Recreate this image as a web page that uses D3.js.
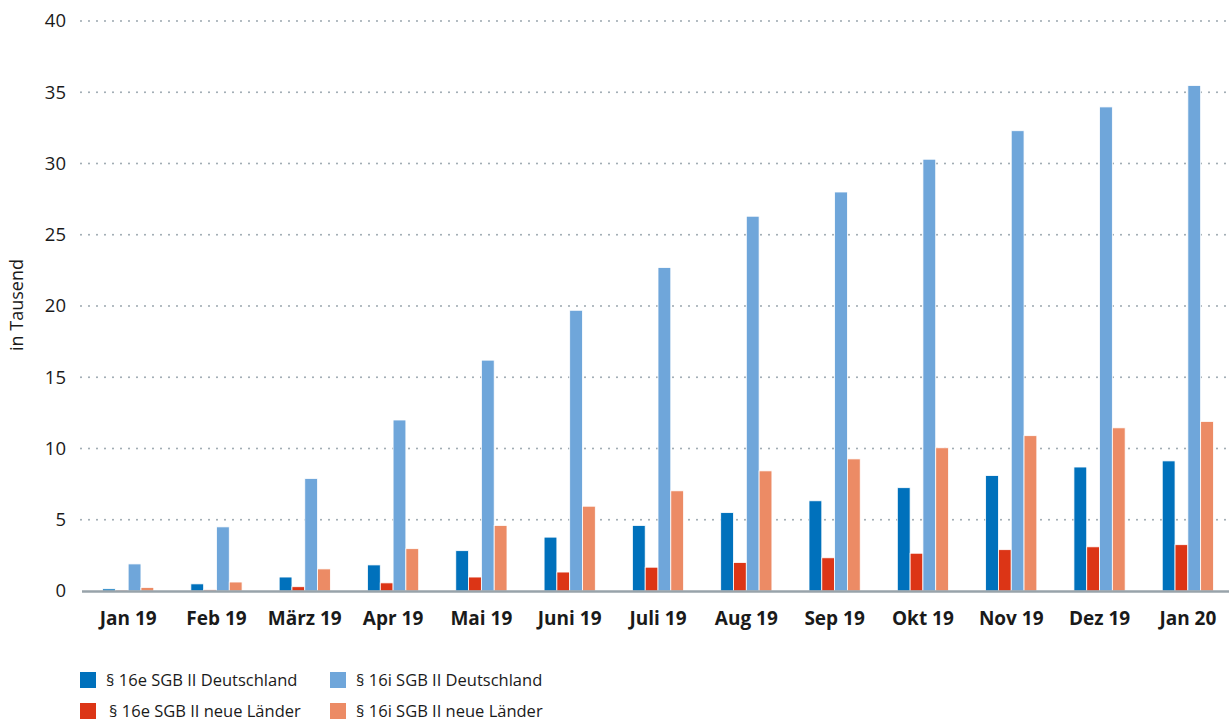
<!DOCTYPE html>
<html><head><meta charset="utf-8">
<script src="https://cdn.jsdelivr.net/npm/d3@7"></script>
<style>body{margin:0;background:#fff}svg{display:block}text{font-family:"Open Sans",sans-serif;fill:#1a1a1a}</style>
</head><body><svg id="c" width="1229" height="722"></svg>
<script>
const categories = ["Jan 19","Feb 19","März 19","Apr 19","Mai 19","Juni 19","Juli 19","Aug 19","Sep 19","Okt 19","Nov 19","Dez 19","Jan 20"];
const seriesNames = ["§ 16e SGB II Deutschland","§ 16e SGB II neue Länder","§ 16i SGB II Deutschland","§ 16i SGB II neue Länder"];
const e_de = [0.15,0.5,0.98,1.83,2.83,3.78,4.6,5.5,6.33,7.25,8.1,8.7,9.13];
const e_nl = [0.07,0.08,0.3,0.57,0.98,1.33,1.67,2.0,2.33,2.65,2.9,3.1,3.25];
const i_de = [1.9,4.5,7.9,12.0,16.2,19.7,22.7,26.3,28.0,30.3,32.3,33.97,35.47];
const i_nl = [0.25,0.63,1.55,2.97,4.6,5.95,7.03,8.43,9.27,10.05,10.9,11.45,11.9];
const yTicks = [0,5,10,15,20,25,30,35,40];
const colors = ["#0071bc","#dc3516","#6fa6da","#ec8b65"];
const seriesValues = [e_de,e_nl,i_de,i_nl];

const svg = d3.select("#c");
const x = d3.scaleBand().domain(categories).range([84,1232]).paddingInner(0.42).paddingOuter(0.21);
const xs = d3.scaleBand().domain(d3.range(4)).range([0,x.bandwidth()]);
const y = d3.scaleLinear().domain([0,40]).range([591,21]);

// gridlines
svg.append("g").selectAll("line").data(yTicks.filter(d=>d>0)).join("line")
  .attr("x1",81).attr("x2",1229).attr("y1",d=>y(d)).attr("y2",d=>y(d))
  .attr("stroke","#9aa6ae").attr("stroke-width",2).attr("stroke-linecap","round").attr("stroke-dasharray","0 8");

// y tick labels
svg.append("g").selectAll("text").data(yTicks).join("text")
  .attr("x",66).attr("y",d=>y(d)).attr("dy","0.35em").attr("text-anchor","end")
  .attr("font-size",18.5).text(d=>d);

// bars
const groups = svg.append("g").selectAll("g").data(categories).join("g")
  .attr("transform",d=>`translate(${x(d)},0)`);
groups.selectAll("rect").data((d,i)=>seriesValues.map((s,k)=>({k,v:s[i]}))).join("rect")
  .attr("x",d=>xs(d.k)).attr("width",xs.bandwidth())
  .attr("y",d=>y(d.v)).attr("height",d=>y(0)-y(d.v))
  .attr("fill",d=>colors[d.k]).attr("stroke","#fff").attr("stroke-width",0.8);

// baseline
svg.append("line").attr("x1",82).attr("x2",1229).attr("y1",y(0)+0.5).attr("y2",y(0)+0.5)
  .attr("stroke","#98a3aa").attr("stroke-width",2.5);

// x labels
svg.append("g").selectAll("text").data(categories).join("text")
  .attr("x",d=>x(d)+x.bandwidth()/2).attr("y",625).attr("text-anchor","middle")
  .attr("font-size",19).attr("font-weight","bold").text(d=>d);

// y title
svg.append("text").attr("transform","translate(23,305) rotate(-90)").attr("text-anchor","middle")
  .attr("font-size",18).text("in Tausend");

// legend
const legendPos = [[80,672],[80,703],[330,672],[330,703]];
const lg = svg.append("g").selectAll("g").data(seriesNames).join("g")
  .attr("transform",(d,i)=>`translate(${legendPos[i][0]},${legendPos[i][1]})`);
lg.append("rect").attr("width",16).attr("height",16).attr("fill",(d,i)=>colors[i]);
lg.append("text").attr("x",(d,i)=>i===1?29:26).attr("y",8).attr("dy","0.35em").attr("font-size",16.5).text(d=>d);
</script></body></html>
